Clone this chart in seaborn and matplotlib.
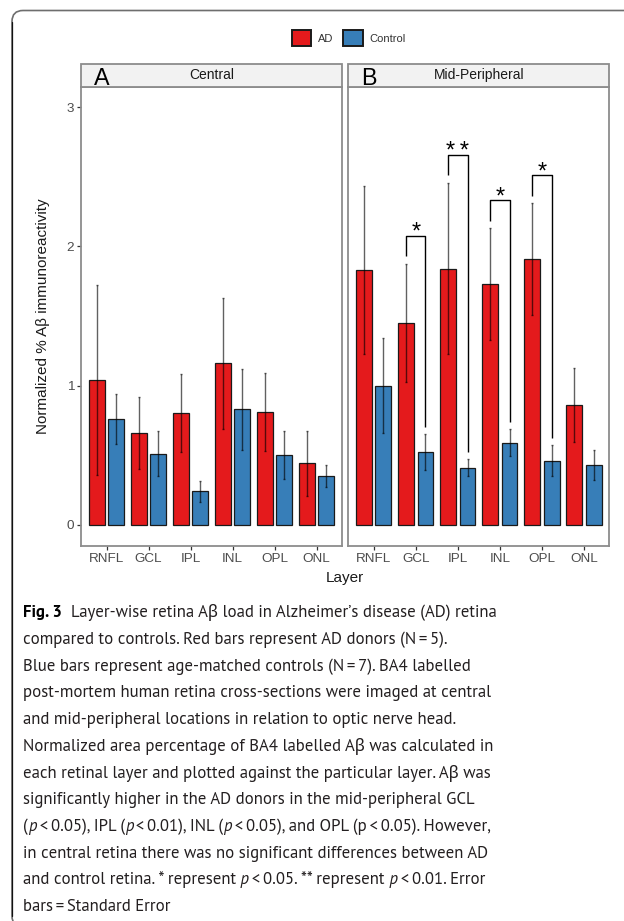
import matplotlib
matplotlib.use("Agg")
import matplotlib.pyplot as plt
import matplotlib.transforms as mtransforms
from matplotlib.patches import Rectangle, FancyBboxPatch
from matplotlib.lines import Line2D
from matplotlib.font_manager import FontProperties, fontManager, weight_dict
import numpy as np
import pandas as pd
import seaborn as sns

# ---------------------------------------------------------------- data
layers = ["RNFL", "GCL", "IPL", "INL", "OPL", "ONL"]
groups = ["AD", "Control"]

central_ad_mean = [1.04, 0.66, 0.80, 1.16, 0.81, 0.44]
central_ad_se = [0.68, 0.26, 0.28, 0.47, 0.28, 0.236]
central_ctrl_mean = [0.76, 0.51, 0.24, 0.83, 0.50, 0.35]
central_ctrl_se = [0.18, 0.163, 0.074, 0.29, 0.17, 0.08]

mid_ad_mean = [1.83, 1.45, 1.84, 1.73, 1.91, 0.86]
mid_ad_se = [0.607, 0.425, 0.615, 0.40, 0.40, 0.265]
mid_ctrl_mean = [1.00, 0.52, 0.41, 0.59, 0.46, 0.43]
mid_ctrl_se = [0.343, 0.13, 0.062, 0.098, 0.11, 0.11]

sig_layers = ["GCL", "IPL", "INL", "OPL"]
sig_labels = ["*", "**", "*", "*"]

panel_titles = ["Central", "Mid-Peripheral"]
panel_letters = ["A", "B"]
y_ticks = [0, 1, 2, 3]

palette = {"AD": "#E41A1C", "Control": "#377EB8"}

# ---------------------------------------------------------------- style
sns.set_theme(style="white")
plt.rcParams["font.family"] = ["Liberation Sans", "DejaVu Sans"]

W, H = 624, 921
fig = plt.figure(figsize=(W / 100, H / 100), dpi=100)
fig.patch.set_facecolor("white")
renderer = fig.canvas.get_renderer()
installed = {f.name for f in fontManager.ttflist}

BORDER = "#8C8C8C"
PANEL_TOP, PANEL_BOTTOM = 86.7, 545.7
STRIP_H = 22.4


def add_panel(left, right):
    return fig.add_axes([left / W, 1 - PANEL_BOTTOM / H,
                         (right - left) / W, (PANEL_BOTTOM - PANEL_TOP) / H])


axA = add_panel(81.3, 341.7)
axB = add_panel(348.4, 609.3)

panels = [
    (axA, central_ad_mean, central_ad_se, central_ctrl_mean, central_ctrl_se),
    (axB, mid_ad_mean, mid_ad_se, mid_ctrl_mean, mid_ctrl_se),
]

letter_family = [f for f in ["Liberation Sans Narrow", "Arimo", "Liberation Sans"]
                 if f in installed] + ["DejaVu Sans"]

legend_handles = None
for k, (ax, ad_m, ad_s, ct_m, ct_s) in enumerate(panels):
    df = pd.DataFrame({
        "layer": layers * 2,
        "group": ["AD"] * len(layers) + ["Control"] * len(layers),
        "value": list(ad_m) + list(ct_m),
    })
    sns.barplot(data=df, x="layer", y="value", hue="group",
                order=layers, hue_order=groups, palette=palette, saturation=1,
                width=0.924, gap=0.19, edgecolor="#1A1A1A", linewidth=0.9,
                errorbar=None, legend=False, ax=ax)

    ses = [ad_s, ct_s]
    centers = {}
    xs, ys, es = [], [], []
    first = {}
    for p in ax.patches:
        h = p.get_height()
        xc = p.get_x() + p.get_width() / 2
        i = int(round(xc))
        g = 0 if xc < i else 1
        centers[(i, g)] = xc
        first.setdefault(g, p)
        xs.append(xc)
        ys.append(h)
        es.append(ses[g][i])
    if legend_handles is None:
        legend_handles = [first[0], first[1]]

    ax.errorbar(xs, ys, yerr=es, fmt="none", ecolor=(0, 0, 0, 0.62),
                elinewidth=1.0, capsize=0.8, capthick=1.0, zorder=3)

    ax.set_xlim(-0.6, 5.6)
    ax.set_ylim(-0.151, 3.147)
    ax.set_xlabel("")
    ax.set_ylabel("")
    for sp in ax.spines.values():
        sp.set_visible(True)
        sp.set_color(BORDER)
        sp.set_linewidth(1.3)
    ax.tick_params(axis="x", bottom=True, length=3, width=0.9, color="#333333",
                   labelsize=9.7, labelcolor="#4D4D4D", pad=2)
    if k == 0:
        ax.set_yticks(y_ticks)
        ax.set_yticklabels([str(t) for t in y_ticks])
        ax.tick_params(axis="y", left=True, length=3.2, width=0.9, color="#333333",
                       labelsize=9.7, labelcolor="#4D4D4D", pad=2)
    else:
        ax.set_yticks([])

    # facet strip
    ph = PANEL_BOTTOM - PANEL_TOP
    pw = ax.get_position().width * W
    ax.add_patch(Rectangle((0, 1), 1, STRIP_H / ph, transform=ax.transAxes,
                           facecolor="#F2F2F2", edgecolor=BORDER, lw=1.3,
                           clip_on=False, zorder=5))
    ax.text(0.5, 1 + STRIP_H / 2 / ph, panel_titles[k], transform=ax.transAxes,
            ha="center", va="center", fontsize=10, color="#1A1A1A", zorder=6)
    ax.text(13.0 / pw, 1 + 1.6 / ph, panel_letters[k], transform=ax.transAxes,
            ha="left", va="baseline", fontsize=16.8, color="black", zorder=6,
            family=letter_family)

    # significance brackets (mid-peripheral only)
    if k == 1:
        for lab, star in zip(sig_layers, sig_labels):
            i = layers.index(lab)
            x_ad, x_ct = centers[(i, 0)], centers[(i, 1)]
            ad_top = ad_m[i] + ad_s[i]
            ct_top = ct_m[i] + ct_s[i]
            top = ad_top + 0.2
            ax.plot([x_ad, x_ad, x_ct, x_ct],
                    [ad_top + 0.055, top, top, ct_top + 0.05],
                    color="black", lw=1.0, zorder=4, solid_capstyle="butt")
            ax.text((x_ad + x_ct) / 2, top - 0.02, "\u2009".join(star),
                    ha="center", va="baseline", fontsize=17, color="black",
                    zorder=6, family=["Liberation Sans", "DejaVu Sans"])

# ---------------------------------------------------------------- titles & legend
fig.text(345.3 / W, 1 - 578 / H, "Layer", ha="center", va="center",
         fontsize=11, color="#1A1A1A")
fig.text(43 / W, 1 - 316 / H, "Normalized % A\u03b2 immunoreactivity",
         rotation=90, ha="center", va="center", fontsize=11, color="#1A1A1A")

leg = fig.legend(legend_handles, groups, loc="center",
                 bbox_to_anchor=(348.9 / W, 1 - 38 / H), ncol=2, frameon=False,
                 fontsize=8, handlelength=1.75, handleheight=1.75,
                 handletextpad=0.65, columnspacing=0.85, borderpad=0,
                 borderaxespad=0)
for t in leg.get_texts():
    t.set_color("#333333")
for hnd in leg.legend_handles:
    hnd.set_linewidth(1.4)

# ---------------------------------------------------------------- caption
caption = [
    [("Fig. 3", "bold"), ("  Layer-wise retina A\u03b2 load in Alzheimer\u2019s disease (AD) retina", "normal")],
    [("compared to controls. Red bars represent AD donors (N\u2009=\u20095).", "normal")],
    [("Blue bars represent age-matched controls (N\u2009=\u20097). BA4 labelled", "normal")],
    [("post-mortem human retina cross-sections were imaged at central", "normal")],
    [("and mid-peripheral locations in relation to optic nerve head.", "normal")],
    [("Normalized area percentage of BA4 labelled A\u03b2 was calculated in", "normal")],
    [("each retinal layer and plotted against the particular layer. A\u03b2 was", "normal")],
    [("significantly higher in the AD donors in the mid-peripheral GCL", "normal")],
    [("(", "normal"), ("p", "italic"), ("\u2009<\u20090.05), IPL (", "normal"), ("p", "italic"),
     ("\u2009<\u20090.01), INL (", "normal"), ("p", "italic"),
     ("\u2009<\u20090.05), and OPL (p\u2009<\u20090.05). However,", "normal")],
    [("in central retina there was no significant differences between AD", "normal")],
    [("and control retina. * represent", "normal"), (" p", "italic"),
     ("\u2009<\u20090.05. ** represent", "normal"), (" p", "italic"),
     ("\u2009<\u20090.01. Error", "normal")],
    [("bars\u2009=\u2009Standard Error", "normal")],
]

CAP_X0, CAP_X1 = 23.3, 489.0
CAP_BASE, CAP_STEP = 617.3, 26.7
CAP_H, X_H = 12.0, 8.7


def fprop(family, kind, size):
    return FontProperties(family=family, size=size,
                          weight="bold" if kind == "bold" else "normal",
                          style="italic" if kind == "italic" else "normal")


def advance(s, fp):
    w1 = renderer.get_text_width_height_descent("|" + s + "|", fp, False)[0]
    w0 = renderer.get_text_width_height_descent("||", fp, False)[0]
    return w1 - w0


def ink_height(s, fp):
    return renderer.get_text_width_height_descent(s, fp, False)[1]


def has_static_faces(fam):
    ents = [f for f in fontManager.ttflist if f.name == fam]
    weights = set()
    for f in ents:
        w = f.weight
        if isinstance(w, str):
            w = weight_dict.get(w, 400)
        weights.add(int(w))
    styles = {f.style for f in ents}
    return 400 in weights and (700 in weights or 600 in weights) and "italic" in styles


# Greek and thin spaces come from a humanist fallback face
fallbacks = [f for f in ["Noto Sans", "Open Sans"] if f in installed] + ["DejaVu Sans"]

# pick the humanist sans whose glyph heights fit the column width best
candidates = ["PT Sans", "PT Sans Narrow", "Fira Sans", "Fira Sans Condensed",
              "Source Sans Pro", "Open Sans", "Noto Sans", "Lato",
              "Asap Condensed", "Cabin Condensed", "Hind", "Mukta",
              "Signika", "Alegreya Sans", "Roboto", "Source Sans 3"]
best = None
for fam in candidates:
    if fam not in installed or not has_static_faces(fam):
        continue
    famlist = [fam] + [f for f in fallbacks if f != fam]
    w = advance(caption[3][0][0], fprop(famlist, "normal", 13.0))
    size = 13.0 * (CAP_X1 - CAP_X0) / w
    fp = fprop(famlist, "normal", size)
    score = abs(ink_height("H", fp) - CAP_H) + abs(ink_height("x", fp) - X_H)
    if best is None or score < best[0]:
        best = (score, famlist, size)
if best is None:
    famlist = ["Lato"] + fallbacks
    w = advance(caption[3][0][0], fprop(famlist, "normal", 13.0))
    best = (0, famlist, 13.0 * (CAP_X1 - CAP_X0) / w)
_, cap_family, cap_size = best
cap_color = "#231F20"

for li, segs in enumerate(caption):
    yb = CAP_BASE + CAP_STEP * li
    x = CAP_X0
    for s, kind in segs:
        fp = fprop(cap_family, kind, cap_size)
        fig.text(x / W, 1 - yb / H, s, fontproperties=fp, ha="left",
                 va="baseline", color="black" if kind == "bold" else cap_color)
        x += advance(s, fp)

# ---------------------------------------------------------------- frame
ident = mtransforms.IdentityTransform()
frame = FancyBboxPatch((12, -6), 660, 916.5,
                       boxstyle="round,pad=0,rounding_size=11",
                       transform=ident, facecolor="none", edgecolor="#6E6E6E",
                       lw=1.2)
fig.add_artist(frame)
fig.add_artist(Line2D([12, 12], [5, 899.5], transform=ident, color="#111111", lw=0.9))

fig.savefig("out.png", dpi=100)
